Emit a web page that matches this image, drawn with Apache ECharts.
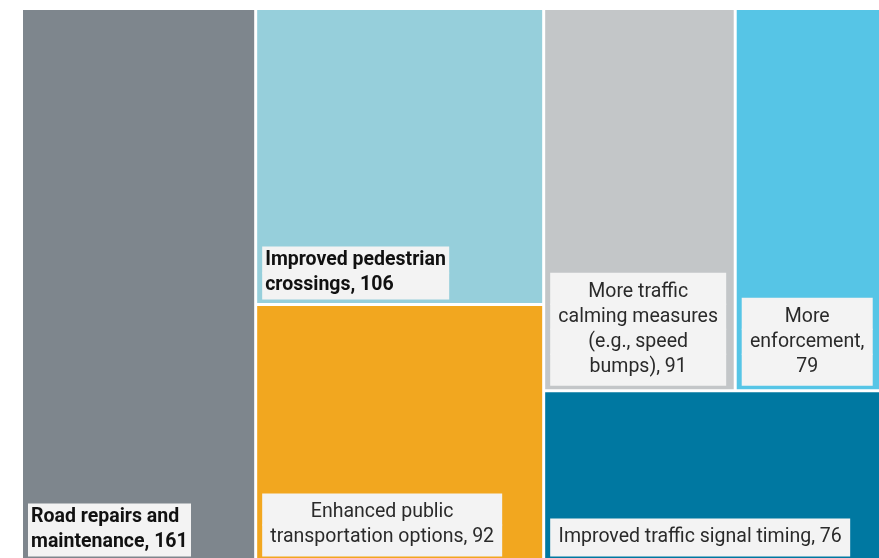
<!DOCTYPE html>
<html>
<head>
<meta charset="utf-8">
<script src="https://cdn.jsdelivr.net/npm/echarts@6/dist/echarts.min.js"></script>
<style>
  html, body { margin: 0; padding: 0; background: #fff; }
  #chart { width: 879px; height: 558px; }
</style>
</head>
<body>
<div id="chart"></div>
<script>
// categories (line breaks as shown in the labels) and counts
const categories = [
  'Road repairs and\nmaintenance',
  'Improved pedestrian\ncrossings',
  'Enhanced public\ntransportation options',
  'More traffic\ncalming measures\n(e.g., speed\nbumps)',
  'More\nenforcement',
  'Improved traffic signal timing'
];
const values = [161, 106, 92, 91, 79, 76];
const valueOnNewLine = [false, false, false, false, true, false];

// styles
const colors = ['#7e868d', '#96cfdb', '#f2a71f', '#c3c6c8', '#56c5e6', '#0078a1'];
const boldLabel = [true, true, false, false, false, false];
const FONT = 'Roboto';
const FONT_SIZE = 19.5;
const LINE = 25;

const ctx = document.createElement('canvas').getContext('2d');
function textWidth(s, bold) {
  ctx.font = (bold ? 'bold ' : '') + FONT_SIZE + 'px ' + FONT;
  return ctx.measureText(s).width;
}

// label box sits at the bottom left of its cell; each line is a rich token
// padded out to the same width so the backgrounds join into one box
function leafLabel(i) {
  const bold = boldLabel[i];
  const lines = (categories[i] + ',' + (valueOnNewLine[i] ? '\n' : ' ') + values[i]).split('\n');
  const widths = lines.map(s => textWidth(s, bold));
  const w = Math.ceil(Math.max.apply(null, widths));
  const padH = bold ? 3 : 8;
  const padV = bold ? 1 : 6;
  const rich = {};
  const tokens = lines.map((s, k) => {
    const top = k === 0 ? padV : 0;
    const bottom = k === lines.length - 1 ? padV : 0;
    const extra = bold ? 0 : (w - widths[k]) / 2;
    rich['t' + k] = {
      fontFamily: FONT,
      fontSize: FONT_SIZE,
      fontWeight: bold ? 'bold' : 'normal',
      color: bold ? '#111' : '#2a2a2a',
      backgroundColor: '#f3f3f3',
      width: w - 2 * extra,
      height: LINE + 1,
      lineHeight: LINE + top + bottom,
      padding: [top, padH + extra, bottom, padH + extra],
      align: 'left'
    };
    return '{t' + k + '|' + s + '}';
  });
  const boxH = lines.length * LINE + 2 * padV;
  return {
    show: true,
    position: [0, '100%'],
    align: 'left',
    verticalAlign: 'top',
    offset: [5, -(boxH + 4)],
    padding: 0,
    overflow: 'none',
    formatter: tokens.join('\n'),
    rich: rich
  };
}

function leaf(i) {
  return {
    name: categories[i].replace(/\n/g, ' '),
    value: values[i],
    itemStyle: { color: colors[i], borderColor: '#fff', borderWidth: 1.5 },
    label: leafLabel(i)
  };
}

function group(children) {
  return { children: children, itemStyle: { borderWidth: 0, gapWidth: 0 } };
}

// grouping only steers the squarified layout into the same arrangement
const treeData = [
  group([leaf(0), group([leaf(1), leaf(2)])]),
  group([group([leaf(3), leaf(4)]), leaf(5)])
];

const chart = echarts.init(document.getElementById('chart'));
chart.setOption({
  animation: false,
  series: [{
    type: 'treemap',
    left: 21.5,
    top: 8.5,
    width: 880,
    height: 553,
    sort: false,
    squareRatio: 1.4,
    roam: false,
    nodeClick: false,
    breadcrumb: { show: false },
    itemStyle: { borderWidth: 0, gapWidth: 0 },
    upperLabel: { show: false },
    data: treeData
  }]
});
</script>
</body>
</html>
